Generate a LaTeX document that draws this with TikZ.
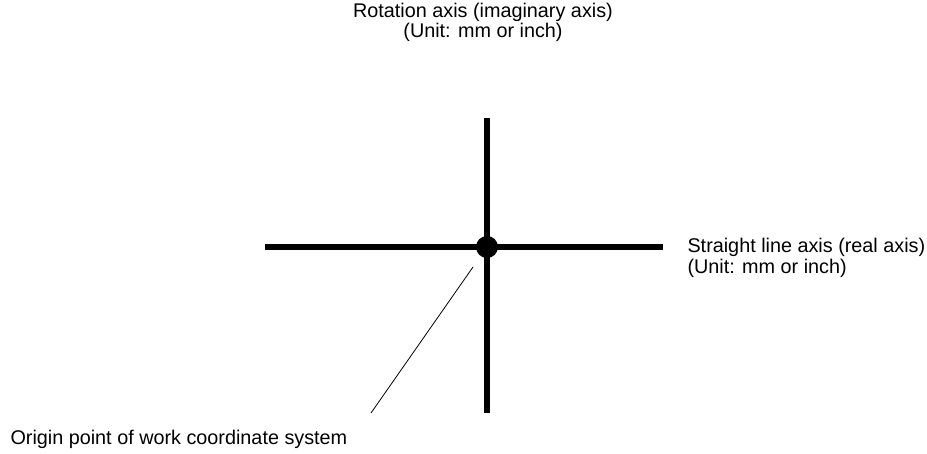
\documentclass[tikz,border=0pt]{standalone}
\usepackage{fontspec}
\setmainfont{Liberation Sans}
\usetikzlibrary{positioning}

\begin{document}
\begin{tikzpicture}[x=1pt, y=-1pt, font=\fontsize{19.8}{20}\selectfont]
\def\ox{487}         % origin, x
\def\oy{247}         % origin, y (counted from the top)
\def\lw{6pt}         % axis thickness

\useasboundingbox (0,0) rectangle (927,454);

% ================= the two axes =================
\coordinate (xleft)  at (265,\oy);
\coordinate (xright) at (663,\oy);
\coordinate (ytop)   at (\ox,118);
\coordinate (ybot)   at (\ox,413);
\draw[line width=\lw] (xleft) -- (xright);
\draw[line width=\lw] (ytop) -- (ybot);
\node[circle, fill, inner sep=0pt, minimum size=22pt] (origin) at (\ox,\oy) {};

% ---------- leader to the origin label ----------
\coordinate (leadend) at (371,413);
\draw[line width=0.8pt, shorten <=13pt] (origin) -- (leadend);

% ================= labels =================
% multi-line nodes: base = baseline of the last line
\node[anchor=base, align=center] (rotlab) at (483,38)
  {Rotation axis (imaginary axis)\\(Unit: mm or inch)};
\node[anchor=base west, align=left, font=\fontsize{19.8}{21}\selectfont] (linlab) at (684,274)
  {Straight line axis (real axis)\\(Unit: mm or inch)};
\node[anchor=base west] (orglab) at (7,445) {Origin point of work coordinate system};

\end{tikzpicture}
\end{document}
